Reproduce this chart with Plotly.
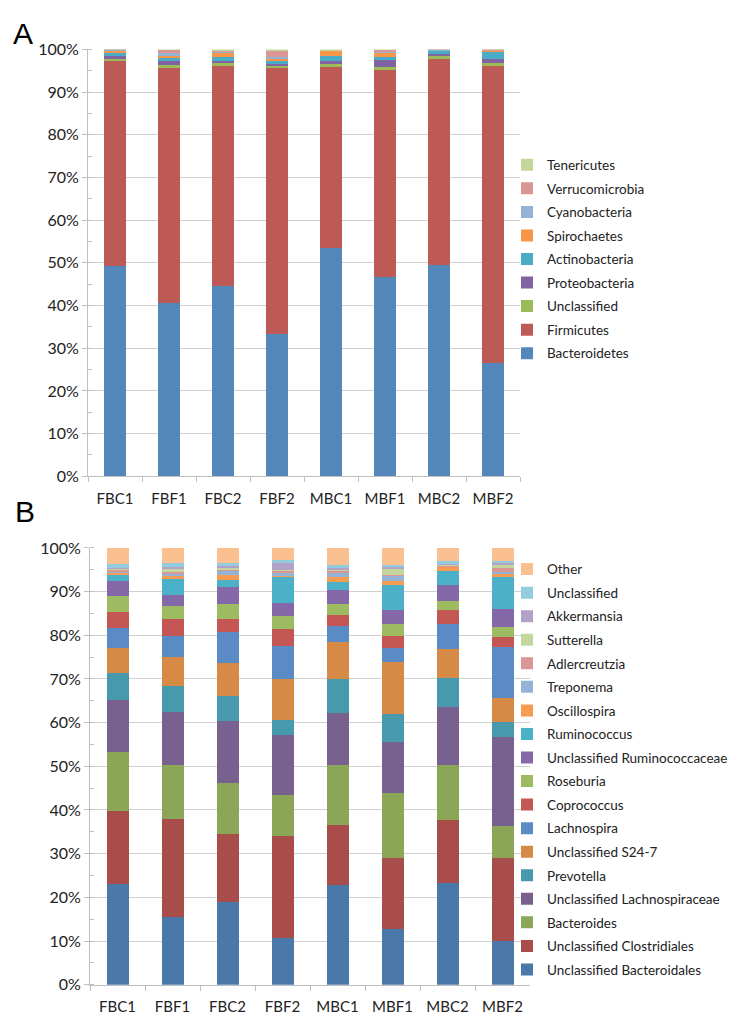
import plotly.graph_objects as go

samples = ["FBC1", "FBF1", "FBC2", "FBF2", "MBC1", "MBF1", "MBC2", "MBF2"]

# Panel A: phyla (bottom to top)
phyla = ["Bacteroidetes", "Firmicutes", "Unclassified", "Proteobacteria", "Actinobacteria",
         "Spirochaetes", "Cyanobacteria", "Verrucomicrobia", "Tenericutes"]
bacteroidetes = [49.3, 40.7, 44.5, 33.4, 53.5, 46.7, 49.5, 26.5]
firmicutes = [47.9, 55.0, 51.6, 62.3, 42.4, 48.5, 48.35, 69.7]
unclassified_p = [0.6, 0.7, 0.6, 0.5, 0.75, 0.7, 0.6, 0.7]
proteobacteria = [0.55, 0.9, 0.6, 0.45, 0.6, 1.6, 0.4, 0.75]
actinobacteria = [0.85, 0.7, 0.9, 0.6, 1.15, 0.75, 0.75, 1.75]
spirochaetes = [0.4, 0.5, 0.9, 0.5, 1.15, 1.0, 0.15, 0.15]
cyanobacteria = [0.2, 0.6, 0.2, 0.5, 0.15, 0.15, 0.1, 0.15]
verrucomicrobia = [0.1, 0.7, 0.45, 1.45, 0.05, 0.4, 0.05, 0.15]
tenericutes = [0.1, 0.15, 0.15, 0.15, 0.15, 0.2, 0.1, 0.15]
phyla_values = [bacteroidetes, firmicutes, unclassified_p, proteobacteria, actinobacteria,
                spirochaetes, cyanobacteria, verrucomicrobia, tenericutes]
phyla_colors = ["#5588BA", "#BE5A55", "#9BBB59", "#8064A2", "#4BACC6",
                "#F79646", "#95B3D7", "#D99694", "#C3D69B"]

# Panel B: genera (bottom to top)
genera = ["Unclassified Bacteroidales", "Unclassified Clostridiales", "Bacteroides",
          "Unclassified Lachnospiraceae", "Prevotella", "Unclassified S24-7", "Lachnospira",
          "Coprococcus", "Roseburia", "Unclassified Ruminococcaceae", "Ruminococcus",
          "Oscillospira", "Treponema", "Adlercreutzia", "Sutterella", "Akkermansia",
          "Unclassified", "Other"]
unc_bacteroidales = [23.1, 15.5, 19.0, 10.7, 22.85, 12.7, 23.3, 10.1]
unc_clostridiales = [16.75, 22.55, 15.5, 23.3, 13.75, 16.4, 14.4, 19.0]
bacteroides = [13.45, 12.25, 11.7, 9.4, 13.7, 14.8, 12.6, 7.15]
unc_lachnospiraceae = [11.9, 12.2, 14.1, 13.8, 11.8, 11.7, 13.3, 20.45]
prevotella = [6.1, 5.8, 5.7, 3.3, 7.9, 6.3, 6.6, 3.5]
unc_s24_7 = [5.8, 6.7, 7.6, 9.5, 8.4, 12.1, 6.6, 5.5]
lachnospira = [4.5, 4.8, 7.2, 7.5, 3.8, 3.2, 5.8, 11.7]
coprococcus = [3.7, 3.9, 2.9, 4.0, 2.4, 2.7, 3.1, 2.2]
roseburia = [3.7, 3.0, 3.5, 3.0, 2.6, 2.6, 2.2, 2.4]
unc_ruminococcaceae = [3.4, 2.5, 3.8, 3.0, 3.2, 3.2, 3.6, 4.0]
ruminococcus = [1.4, 3.7, 1.7, 5.8, 1.7, 5.8, 3.2, 7.3]
oscillospira = [0.5, 0.7, 1.1, 0.5, 1.2, 0.9, 1.0, 0.9]
treponema = [0.4, 0.6, 1.0, 0.4, 1.1, 1.2, 0.1, 0.4]
adlercreutzia = [0.3, 0.4, 0.3, 0.6, 0.4, 0.3, 0.2, 0.9]
sutterella = [0.2, 0.5, 0.4, 0.1, 0.3, 1.3, 0.3, 0.8]
akkermansia = [0.3, 0.6, 0.46, 1.7, 0.3, 0.5, 0.1, 0.3]
unclassified_g = [0.8, 0.9, 0.64, 0.6, 0.7, 0.4, 0.6, 0.4]
other = [3.7, 3.4, 3.4, 2.8, 3.9, 3.9, 3.0, 3.0]
genera_values = [unc_bacteroidales, unc_clostridiales, bacteroides, unc_lachnospiraceae,
                 prevotella, unc_s24_7, lachnospira, coprococcus, roseburia,
                 unc_ruminococcaceae, ruminococcus, oscillospira, treponema, adlercreutzia,
                 sutterella, akkermansia, unclassified_g, other]
genera_colors = ["#4A78A8", "#A94D4A", "#8BA657", "#78618F", "#4799AE", "#D68A45",
                 "#5A8BC4", "#C45653", "#9DBB61", "#8468A8", "#4BB1C9", "#F59B52",
                 "#95B3D7", "#D99694", "#C3D69B", "#B3A2C7", "#93CDDD", "#FAC090"]

W, H = 737, 1021
FONT = "Lato"

fig = go.Figure()
n_a = len(phyla)
for i, (name, vals, col) in enumerate(zip(phyla, phyla_values, phyla_colors)):
    fig.add_trace(go.Bar(x=samples, y=vals, name=name, marker_color=col,
                         marker_line_width=0, xaxis="x", yaxis="y",
                         legend="legend", legendgroup="a_" + name,
                         legendrank=1000 + (n_a - i)))
n_b = len(genera)
for i, (name, vals, col) in enumerate(zip(genera, genera_values, genera_colors)):
    fig.add_trace(go.Bar(x=samples, y=vals, name=name, marker_color=col,
                         marker_line_width=0, xaxis="x2", yaxis="y2",
                         legend="legend2", legendgroup="b_" + name,
                         legendrank=1000 + (n_b - i)))

def px_x(p):
    return p / W

def px_y(p):
    return 1 - p / H

yaxis_common = dict(range=[0, 100], dtick=10, ticksuffix="%", showgrid=True,
                    gridcolor="#D0D0D0", gridwidth=1, showline=True, linecolor="#BFBFBF",
                    ticks="outside", ticklen=5, tickcolor="#BFBFBF",
                    minor=dict(dtick=5, ticks="inside", ticklen=4, tickcolor="#BFBFBF",
                               showgrid=False),
                    tickfont=dict(family=FONT, size=16, color="#222222"), zeroline=False,
                    fixedrange=True)
xaxis_common = dict(showline=True, linecolor="#BFBFBF", ticks="outside", ticklen=5,
                    tickcolor="#BFBFBF", tickson="boundaries", showgrid=False,
                    tickangle=0,
                    tickfont=dict(family=FONT, size=15, color="#222222"))

legend_common = dict(font=dict(family=FONT, size=13.5, color="#222222"),
                     traceorder="grouped", tracegroupgap=3,
                     bgcolor="rgba(0,0,0,0)", itemwidth=30, xanchor="left", yanchor="top",
                     itemclick=False, itemdoubleclick=False)

fig.update_layout(
    width=W, height=H, margin=dict(l=0, r=0, t=0, b=0),
    paper_bgcolor="white", plot_bgcolor="white",
    barmode="stack", bargap=0.6,
    xaxis=dict(domain=[px_x(80), px_x(512)], anchor="y", ticklabelstandoff=9,
               **xaxis_common),
    yaxis=dict(domain=[px_y(467), px_y(32)], anchor="x", **yaxis_common),
    xaxis2=dict(domain=[px_x(82), px_x(522)], anchor="y2", ticklabelstandoff=8,
                **xaxis_common),
    yaxis2=dict(domain=[px_y(985), px_y(540)], anchor="x2", **yaxis_common),
    legend=dict(x=px_x(499), y=px_y(134), **legend_common),
    legend2=dict(x=px_x(499), y=px_y(546), **legend_common),
    annotations=[
        dict(text="A", x=px_x(3), y=px_y(16), xref="paper", yref="paper",
             xanchor="left", yanchor="middle", showarrow=False,
             font=dict(family="Liberation Sans", size=30, color="black")),
        dict(text="B", x=px_x(5), y=px_y(503), xref="paper", yref="paper",
             xanchor="left", yanchor="middle", showarrow=False,
             font=dict(family="Liberation Sans", size=30, color="black")),
    ],
)

fig.write_html("out.html")
